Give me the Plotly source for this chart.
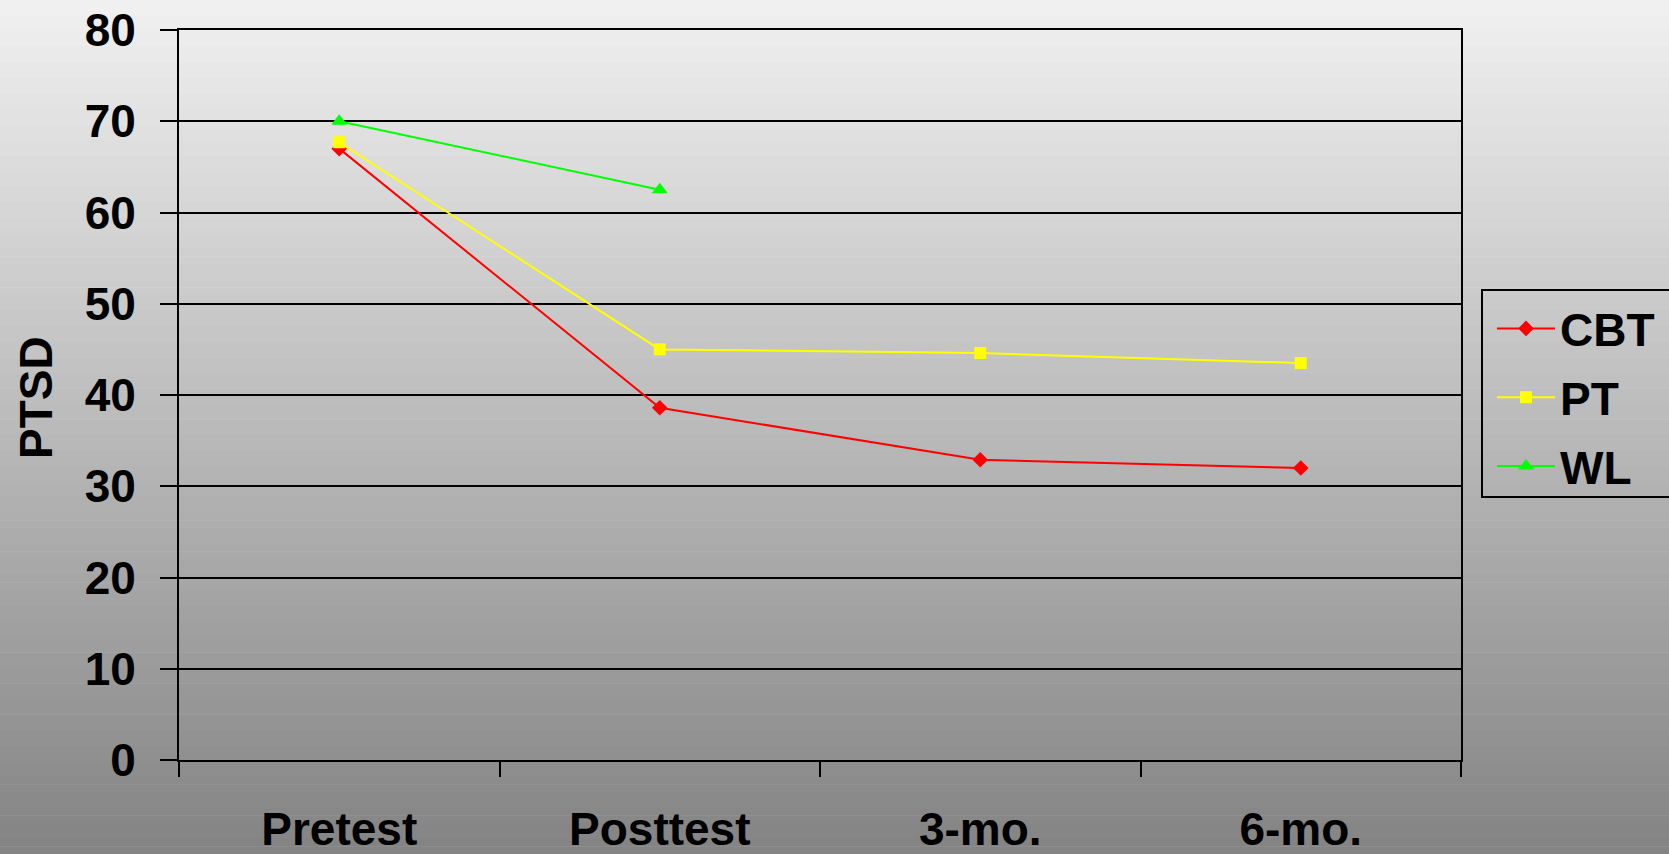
import plotly.graph_objects as go

# Assessment points and group means (PTSD severity)
timepoints = ["Pretest", "Posttest", "3-mo.", "6-mo."]
cbt_scores = [67.0, 38.6, 32.9, 32.0]
pt_scores = [67.7, 45.0, 44.6, 43.5]
wl_scores = [70.0, 62.5, None, None]

y_ticks = [0, 10, 20, 30, 40, 50, 60, 70, 80]

FONT = "Liberation Sans, Arial, sans-serif"

fig = go.Figure()

series = [
    ("CBT", cbt_scores, "#ff0000", "diamond", 12),
    ("PT", pt_scores, "#ffff00", "square", 12),
    ("WL", wl_scores, "#00ff00", "triangle-up", 14),
]
for name, vals, color, symbol, msize in series:
    fig.add_trace(go.Scatter(
        x=timepoints, y=vals, name=name, mode="lines+markers",
        line=dict(color=color, width=2),
        marker=dict(color=color, symbol=symbol, size=msize, line=dict(width=0)),
        legendgroup=name,
        connectgaps=False,
    ))

# Page background: vertical grey gradient built from thin horizontal bands
W, H = 1669, 854
ml, mr, mt, mb = 179, 208, 30, 94
pw, ph = W - ml - mr, H - mt - mb
n_bands = 110
top_rgb, bot_rgb = 241, 131
shapes = []
for i in range(n_bands):
    y0_px = H * i / n_bands
    y1_px = H * (i + 1) / n_bands + 0.6
    t = (i + 0.5) / n_bands
    g = round(top_rgb + (bot_rgb - top_rgb) * t)
    shapes.append(dict(
        type="rect", xref="paper", yref="paper", layer="below",
        x0=-ml / pw, x1=(W - ml) / pw,
        y0=(H - mb - y1_px) / ph, y1=(H - mb - y0_px) / ph,
        fillcolor=f"rgb({g},{g},{g})", line=dict(width=0),
    ))

# Legend frame, running off the right edge of the page
shapes.append(dict(
    type="rect", xref="paper", yref="paper", layer="below",
    x0=(1482 - ml) / pw, x1=(W + 20 - ml) / pw,
    y0=(H - mb - 497) / ph, y1=(H - mb - 290) / ph,
    fillcolor="rgba(0,0,0,0)", line=dict(color="#000000", width=2),
))

fig.update_layout(
    width=W, height=H,
    margin=dict(l=ml, r=mr, t=mt, b=mb, autoexpand=False),
    paper_bgcolor="rgba(0,0,0,0)",
    plot_bgcolor="rgba(0,0,0,0)",
    shapes=shapes,
    showlegend=True,
    font=dict(family=FONT, color="#000000"),
    legend=dict(
        x=(1492 - ml) / pw, xanchor="left",
        y=(H - mb - 292) / ph, yanchor="top",
        bgcolor="rgba(0,0,0,0)",
        borderwidth=0,
        font=dict(family=FONT, size=46, weight=700, color="#000000"),
        itemwidth=58,
        tracegroupgap=6,
        traceorder="grouped",
    ),
    annotations=[dict(
        text="PTSD", xref="paper", yref="paper",
        x=(36 - ml) / pw, y=(H - mb - 398) / ph,
        xanchor="center", yanchor="middle", textangle=-90, showarrow=False,
        font=dict(family=FONT, size=46, weight=700, color="#000000"),
    )],
)

fig.update_xaxes(
    type="category", categoryorder="array", categoryarray=timepoints,
    range=[-0.5, 3.5],
    tickson="boundaries", ticks="outside", ticklen=15, tickwidth=2, tickcolor="#000000",
    showline=True, linecolor="#000000", linewidth=2, mirror=True,
    showgrid=False, zeroline=False,
    tickfont=dict(family=FONT, size=46, weight=700, color="#000000"),
    ticklabelstandoff=28,
)
fig.update_yaxes(
    range=[0, 80], tickvals=y_ticks,
    ticks="outside", ticklen=17, tickwidth=2, tickcolor="#000000",
    showline=True, linecolor="#000000", linewidth=2, mirror=True,
    showgrid=True, gridcolor="#000000", gridwidth=2, zeroline=False,
    tickfont=dict(family=FONT, size=46, weight=700, color="#000000"),
    ticklabelstandoff=15,
)

fig.write_html("out.html")
